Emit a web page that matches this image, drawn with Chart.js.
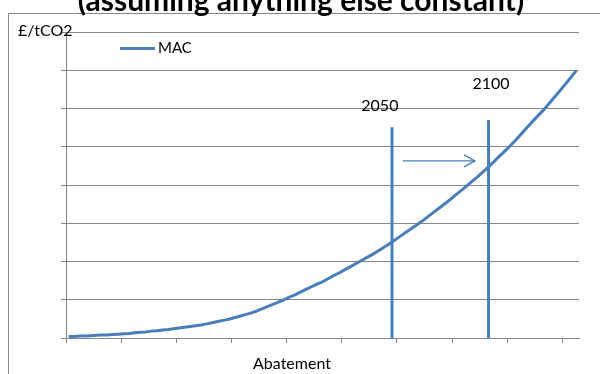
<!DOCTYPE html>
<html>
<head>
<meta charset="utf-8">
<script src="https://cdn.jsdelivr.net/npm/chart.js@4/dist/chart.umd.min.js"></script>
<style>
  html, body { margin: 0; padding: 0; background: #fff; }
  #wrap { width: 600px; height: 374px; position: relative; }
</style>
</head>
<body>
<div id="wrap"><canvas id="chart" width="600" height="374"></canvas></div>
<script>
// Marginal abatement cost (£/tCO2) for abatement steps 1..93
const mac = [
  0.04, 0.04, 0.05, 0.05, 0.06, 0.07, 0.08, 0.08, 0.09, 0.10,
  0.11, 0.12, 0.14, 0.15, 0.16, 0.18, 0.19, 0.21, 0.22, 0.24,
  0.26, 0.28, 0.30, 0.32, 0.34, 0.37, 0.40, 0.43, 0.46, 0.49,
  0.53, 0.57, 0.61, 0.65, 0.70, 0.76, 0.82, 0.88, 0.94, 1.00,
  1.07, 1.13, 1.20, 1.27, 1.34, 1.41, 1.47, 1.55, 1.63, 1.70,
  1.78, 1.86, 1.94, 2.02, 2.10, 2.18, 2.27, 2.36, 2.45, 2.55,
  2.65, 2.75, 2.85, 2.95, 3.05, 3.16, 3.27, 3.38, 3.49, 3.60,
  3.72, 3.84, 3.96, 4.08, 4.20, 4.33, 4.46, 4.60, 4.74, 4.88,
  5.02, 5.17, 5.33, 5.49, 5.65, 5.80, 5.95, 6.12, 6.29, 6.46,
  6.63, 6.81, 6.99
];
const abatementSteps = mac.map((_, i) => i + 1);

// Abatement reached by each year
const markerYears = ['2050', '2100'];
const markerSteps = [59.6, 77.1];
const markerHeights = [5.51, 5.70];
const yearLabelSteps = [57.4, 77.55];
const yearLabelValues = [6.06, 6.64];

// Shift of abatement between the two years
const shiftFrom = 61.55;
const shiftTo = 74.65;
const shiftLevel = 4.63;

// Axis ticks (no tick labels are shown)
const xTickValues = [0.5, 10.5, 20.5, 30.5, 40.5, 50.5, 60.5, 70.5, 80.5, 90.5];
const yTickValues = [0, 1, 2, 3, 4, 5, 6, 7, 8];

const BLUE = '#4a7ebb';
const GREY = '#868686';
const FONT = 'Lato, "Open Sans", sans-serif';

const macPoints = abatementSteps.map((s, i) => ({ x: s, y: mac[i] }));

const markerSets = markerYears.map((yr, i) => ({
  label: yr,
  data: [{ x: markerSteps[i], y: 0 }, { x: markerSteps[i], y: markerHeights[i] }],
  borderColor: BLUE,
  borderWidth: 3,
  pointRadius: 0,
  borderCapStyle: 'butt'
}));

const decorations = {
  id: 'decorations',
  beforeDraw(chart) {
    const ctx = chart.ctx;
    ctx.save();
    ctx.strokeStyle = GREY;
    ctx.lineWidth = 1;
    ctx.strokeRect(8.5, 13.5, 700, 500);
    ctx.restore();
  },
  afterDatasetsDraw(chart) {
    const ctx = chart.ctx;
    const xs = chart.scales.x, ys = chart.scales.y;
    ctx.save();

    // arrow head
    const ax = xs.getPixelForValue(shiftTo);
    const ay = ys.getPixelForValue(shiftLevel);
    ctx.strokeStyle = BLUE;
    ctx.lineWidth = 1.3;
    ctx.beginPath();
    ctx.moveTo(ax - 11, ay - 6);
    ctx.lineTo(ax, ay);
    ctx.lineTo(ax - 11, ay + 6);
    ctx.stroke();

    ctx.fillStyle = '#000';
    ctx.textAlign = 'center';
    ctx.textBaseline = 'middle';
    ctx.font = '16px ' + FONT;
    markerYears.forEach((yr, i) => {
      ctx.fillText(yr, xs.getPixelForValue(yearLabelSteps[i]), ys.getPixelForValue(yearLabelValues[i]));
    });

    // legend
    const ds = chart.data.datasets[0];
    ctx.strokeStyle = ds.borderColor;
    ctx.lineWidth = 3;
    ctx.beginPath();
    ctx.moveTo(120, 48.5);
    ctx.lineTo(155, 48.5);
    ctx.stroke();
    ctx.textAlign = 'left';
    ctx.font = '15px ' + FONT;
    ctx.fillText(ds.label, 158, 48.5);

    // axis titles
    ctx.font = '16px ' + FONT;
    ctx.fillText('£/tCO2', 18, 30.5);
    ctx.textAlign = 'center';
    ctx.fillText('Abatement', 292, 364);

    // chart title (top partly outside the canvas)
    ctx.font = 'bold 30px ' + FONT;
    ctx.textBaseline = 'alphabetic';
    ctx.fillText('(assuming anything else constant)', 301, 10.5);
    ctx.restore();
  }
};

new Chart(document.getElementById('chart'), {
  type: 'line',
  data: {
    datasets: [
      {
        label: 'MAC',
        data: macPoints,
        borderColor: BLUE,
        borderWidth: 3,
        pointRadius: 0,
        tension: 0,
        borderJoinStyle: 'round'
      },
      ...markerSets,
      {
        label: 'shift',
        data: [{ x: shiftFrom, y: shiftLevel }, { x: shiftTo, y: shiftLevel }],
        borderColor: BLUE,
        borderWidth: 1.3,
        pointRadius: 0
      }
    ]
  },
  options: {
    responsive: false,
    animation: false,
    devicePixelRatio: 1,
    layout: { padding: { left: 61, top: 32, right: 21, bottom: 31 } },
    plugins: { legend: { display: false }, tooltip: { enabled: false }, title: { display: false } },
    scales: {
      x: {
        type: 'linear',
        min: 0.5,
        max: 93.5,
        afterBuildTicks: s => { s.ticks = xTickValues.map(v => ({ value: v })); },
        afterFit: s => { s.height = 5; },
        ticks: { display: false },
        grid: { drawOnChartArea: false, drawTicks: true, tickLength: 5, color: GREY },
        border: { display: true, color: GREY, width: 1 }
      },
      y: {
        min: 0,
        max: 8,
        afterBuildTicks: s => { s.ticks = yTickValues.map(v => ({ value: v })); },
        afterFit: s => { s.width = 5; },
        ticks: { display: false },
        grid: { drawTicks: true, tickLength: 5, color: GREY },
        border: { display: true, color: GREY, width: 1 }
      }
    }
  },
  plugins: [decorations]
});
</script>
</body>
</html>
